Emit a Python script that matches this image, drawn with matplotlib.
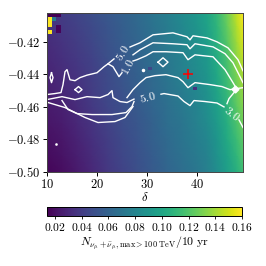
import numpy as np
import matplotlib
matplotlib.use("Agg")
import matplotlib.pyplot as plt
from matplotlib.ticker import FuncFormatter
from matplotlib.patches import Rectangle

plt.rcParams['mathtext.fontset'] = 'cm'
plt.rcParams['font.family'] = ['cmr10', 'DejaVu Serif']

# heatmap nodes (delta, y) and rate values
delta_nodes = [10, 13, 16, 19, 22, 25, 28, 31, 34, 37, 40, 42, 44, 46, 48, 49.2]
y_nodes = [-0.50, -0.49, -0.48, -0.47, -0.46, -0.45, -0.44, -0.43, -0.42, -0.41, -0.40]
rate = [
    [.016, .019, .024, .030, .037, .043, .049, .055, .061, .066, .072, .077, .085, .095, .106, .114],
    [.018, .021, .026, .032, .039, .045, .050, .056, .063, .068, .074, .079, .088, .098, .110, .119],
    [.020, .023, .028, .034, .040, .046, .052, .058, .064, .070, .076, .081, .090, .102, .114, .123],
    [.022, .025, .030, .036, .042, .048, .053, .059, .066, .071, .078, .084, .093, .105, .119, .128],
    [.024, .027, .032, .038, .044, .049, .055, .061, .067, .073, .080, .086, .096, .108, .123, .132],
    [.026, .030, .034, .040, .046, .051, .057, .063, .069, .075, .082, .088, .099, .112, .127, .137],
    [.028, .032, .036, .041, .047, .053, .058, .064, .071, .077, .084, .090, .101, .115, .131, .142],
    [.030, .034, .038, .043, .049, .054, .060, .066, .072, .079, .086, .092, .104, .118, .135, .146],
    [.032, .036, .040, .045, .051, .056, .061, .067, .074, .080, .088, .095, .107, .121, .140, .151],
    [.034, .038, .042, .047, .052, .057, .063, .069, .075, .082, .090, .097, .109, .125, .144, .155],
    [.036, .040, .044, .049, .054, .059, .064, .070, .077, .084, .092, .099, .112, .128, .148, .160],
]

# odd single cells (delta0, delta1, y0, y1, value)
odd_d0 = [10.0, 10.0, 10.0, 11.8, 30.2, 39.2, 10.9]
odd_d1 = [10.9, 10.9, 12.7, 12.7, 31.0, 40.0, 11.7]
odd_y0 = [-0.4108, -0.4151, -0.4047, -0.4145, -0.4371, -0.4494, -0.4070]
odd_y1 = [-0.4047, -0.4127, -0.4023, -0.4096, -0.4353, -0.4475, -0.4047]
odd_v = [0.160, 0.160, 0.014, 0.016, 0.045, 0.035, 0.075]

# contour lines
lines = {
    'u1a': ([22.2, 23.4], [-0.4335, -0.4305]),
    'u1b': ([26.6, 27.2, 28.6, 31.2, 35.2, 38.0, 38.6, 39.2, 42.0, 44.0, 46.2, 48.2, 49.2],
            [-0.4232, -0.4224, -0.4206, -0.4157, -0.4145, -0.4169, -0.4188, -0.4163, -0.4176, -0.4200, -0.4237, -0.4310, -0.4378]),
    'u2': ([27.2, 28.6, 31.2, 35.2, 38.0, 38.6, 39.6, 43.2, 45.6, 47.2, 48.6, 49.2],
           [-0.4280, -0.4249, -0.4206, -0.4212, -0.4218, -0.4243, -0.4212, -0.4231, -0.4273, -0.4329, -0.4414, -0.4451]),
    'u3': ([27.2, 28.0, 29.8, 31.2, 33.8, 37.2, 38.2, 39.6, 43.2, 45.6, 47.2, 47.8],
           [-0.4318, -0.4310, -0.4286, -0.4261, -0.4261, -0.4267, -0.4310, -0.4280, -0.4292, -0.4371, -0.4451, -0.4482]),
    't1': ([10.0, 11.6, 12.8, 13.2, 13.6, 14.0, 14.6, 15.6, 16.6, 18.0, 20.0, 21.4, 22.2, 23.2, 24.4, 25.0],
           [-0.4524, -0.4518, -0.4512, -0.4463, -0.4384, -0.4371, -0.4433, -0.4439, -0.4420, -0.4405, -0.4390, -0.4353, -0.4335, -0.4353, -0.4414, -0.4390]),
    'lw1': ([26.0, 27.2, 28.6, 29.8, 31.6, 33.8, 36.2, 37.2, 38.2, 39.6, 42.6, 45.0, 46.6, 47.8, 49.2],
            [-0.4543, -0.4494, -0.4451, -0.4420, -0.4408, -0.4402, -0.4420, -0.4445, -0.4482, -0.4451, -0.4463, -0.4475, -0.4494, -0.4488, -0.4482]),
    'lw2a': ([10.0, 13.0, 15.6, 18.0, 20.6, 22.2, 23.0, 23.2, 24.6, 26.0, 27.4],
             [-0.4555, -0.4537, -0.4555, -0.4537, -0.4543, -0.4524, -0.4500, -0.4543, -0.4567, -0.4573, -0.4552]),
    'lw2b': ([32.8, 33.4, 36.2, 37.4, 38.6, 39.4, 41.6, 44.0, 45.4],
             [-0.4522, -0.4518, -0.4533, -0.4567, -0.4592, -0.4561, -0.4567, -0.4576, -0.4600]),
    'lw2c': ([48.4, 48.8, 49.2], [-0.4680, -0.4703, -0.4726]),
    'hook': ([47.4, 46.4, 46.0], [-0.4512, -0.4549, -0.4580]),
    't3': ([10.2, 13.6, 17.6, 20.2, 23.6, 25.6, 27.2], [-0.4573, -0.4604, -0.4665, -0.4696, -0.4690, -0.4665, -0.4598]),
    't4': ([13.0, 14.2, 16.0, 19.0, 23.0, 25.8, 27.0, 27.4], [-0.4561, -0.4616, -0.4641, -0.4647, -0.4647, -0.4635, -0.4598, -0.4567]),
    'isle1': ([10.9, 11.2, 10.9, 10.6, 10.9], [-0.4390, -0.4420, -0.4451, -0.4420, -0.4390]),
    'isle2': ([15.6, 16.3, 17.0, 16.3, 15.6], [-0.4494, -0.4475, -0.4494, -0.4512, -0.4494]),
    'isle3': ([32.2, 33.2, 34.2, 33.2, 32.2], [-0.4325, -0.4298, -0.4325, -0.4353, -0.4325]),
}

# contour labels: text, delta, y, rotation
lab_text = ['5.0', '1.0', '5.0', '3.0']
lab_d = [25.1, 26.1, 30.1, 47.0]
lab_y = [-0.4268, -0.4355, -0.4538, -0.4640]
lab_rot = [58, 62, 14, -38]

blob_d, blob_y = [47.6, 29.2], [-0.4488, -0.4371]
best_d, best_y = 38.2, -0.4396

vmin, vmax = 0.014, 0.16
cmap = plt.get_cmap('viridis')
norm = matplotlib.colors.Normalize(vmin=vmin, vmax=vmax)

fig = plt.figure(figsize=(2.66, 2.66), dpi=100)
ax = fig.add_axes([0.1767, 0.3534, 0.7368, 0.5977])
cax = fig.add_axes([0.1767, 0.188, 0.733, 0.034])

mesh = ax.pcolormesh(delta_nodes, y_nodes, np.array(rate), shading='gouraud', cmap=cmap, norm=norm)
for d0, d1, y0, y1, v in zip(odd_d0, odd_d1, odd_y0, odd_y1, odd_v):
    ax.add_patch(Rectangle((d0, y0), d1 - d0, y1 - y0, color=cmap(norm(v)), lw=0))

for name, (xs, ys) in lines.items():
    ax.plot(xs, ys, color='white', lw=1.0)
for t, d, y, r in zip(lab_text, lab_d, lab_y, lab_rot):
    ax.text(d, y, '$' + t + '$', color='white', fontsize=8.5, rotation=r,
            ha='center', va='center', rotation_mode='anchor')
ax.plot(blob_d[0], blob_y[0], 'D', color='white', ms=3.5)
ax.plot(blob_d[1], blob_y[1], 'o', color='white', ms=1.5)
ax.plot(11.8, -0.4830, 's', color='white', ms=0.8)
ax.plot(best_d, best_y, '+', color='red', ms=7, mew=1.1)

ax.set_xlim(10, 49.2)
ax.set_ylim(-0.50, -0.4023)
ax.set_xticks([10, 20, 30, 40])
ax.set_yticks([-0.50, -0.48, -0.46, -0.44, -0.42])
ax.xaxis.set_major_formatter(FuncFormatter(lambda v, p: '$%d$' % v))
ax.yaxis.set_major_formatter(FuncFormatter(lambda v, p: '$%.2f$' % v))
ax.tick_params(labelsize=9, length=3, width=0.7, pad=1.5)
ax.set_xlabel(r'$\delta$', fontsize=9, labelpad=0)
for s in ax.spines.values():
    s.set_linewidth(0.7)
    s.set_color('#444444')

cb = fig.colorbar(mesh, cax=cax, orientation='horizontal')
cb.set_ticks([0.02, 0.04, 0.06, 0.08, 0.10, 0.12, 0.14, 0.16])
cb.ax.xaxis.set_major_formatter(FuncFormatter(lambda v, p: '$%.2f$' % v))
cb.ax.tick_params(labelsize=8.3, length=2, width=0.6, pad=1.5)
cb.outline.set_linewidth(0.7)
cb.set_label(r'$N_{\nu_\mu+\bar{\nu}_\mu,\mathrm{max}>100\ \mathrm{TeV}}/10\ \mathrm{yr}$', fontsize=8.5, labelpad=1)

fig.savefig('out.png', dpi=100)
